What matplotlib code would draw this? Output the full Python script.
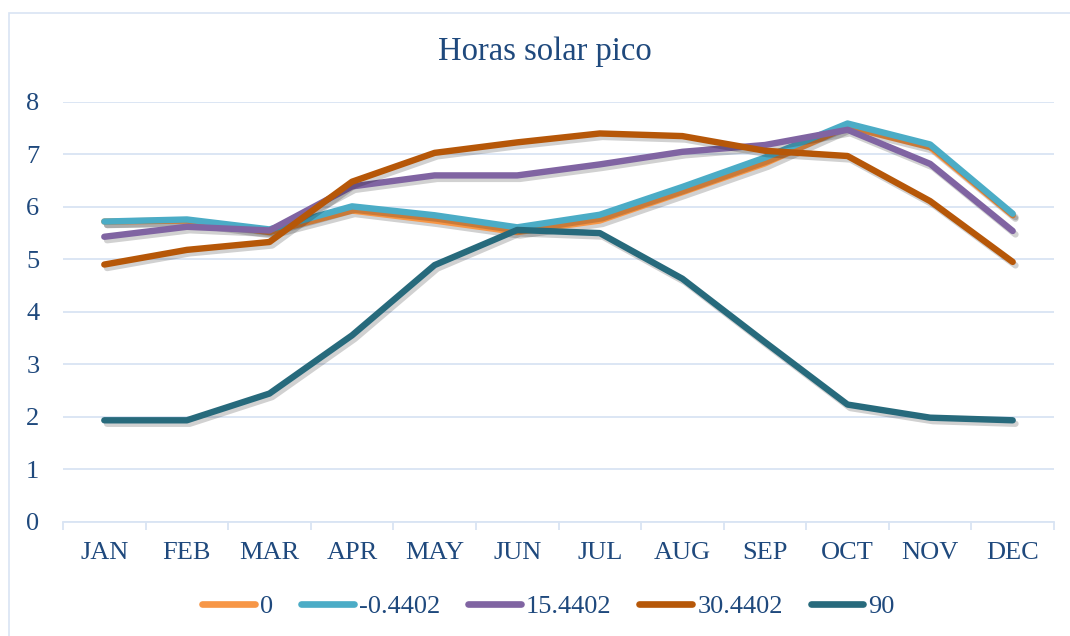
import matplotlib
matplotlib.use("Agg")
import matplotlib.pyplot as plt
import matplotlib.patheffects as pe
from matplotlib.patches import Rectangle

months = ["JAN", "FEB", "MAR", "APR", "MAY", "JUN", "JUL", "AUG", "SEP", "OCT", "NOV", "DEC"]
series_names = ["0", "-0.4402", "15.4402", "30.4402", "90"]
s_0 = [5.72, 5.74, 5.52, 5.93, 5.74, 5.52, 5.74, 6.28, 6.83, 7.53, 7.14, 5.84]
s_m04402 = [5.72, 5.76, 5.57, 6.01, 5.84, 5.61, 5.85, 6.38, 6.94, 7.59, 7.19, 5.87]
s_154402 = [5.43, 5.62, 5.55, 6.39, 6.60, 6.60, 6.81, 7.05, 7.18, 7.47, 6.82, 5.54]
s_304402 = [4.90, 5.18, 5.33, 6.48, 7.03, 7.23, 7.40, 7.35, 7.07, 6.97, 6.11, 4.95]
s_90 = [1.93, 1.93, 2.44, 3.55, 4.89, 5.56, 5.50, 4.63, 3.42, 2.23, 1.98, 1.93]
values = [s_0, s_m04402, s_154402, s_304402, s_90]
colors = ["#F79646", "#4BACC6", "#8064A2", "#B65708", "#276A7C"]

text_color = "#1F497D"
grid_color = "#D9E4F3"
plt.rcParams["font.family"] = ["Liberation Serif", "DejaVu Serif"]

fig = plt.figure(figsize=(10.70, 6.36), dpi=100)
fig.patches.append(Rectangle((9 / 1070, -0.05), 1.1, 1 - 13 / 636 + 0.05,
                             transform=fig.transFigure, fill=False,
                             edgecolor=grid_color, linewidth=1.2, zorder=0))
ax = fig.add_axes([63 / 1070, 1 - 521.5 / 636, (1054 - 63) / 1070, (521.5 - 102) / 636])

x = list(range(len(months)))
shadow = [pe.SimpleLineShadow(offset=(2.0, -2.5), shadow_color="black", alpha=0.18),
          pe.Normal()]
for name, vals, c in zip(series_names, values, colors):
    ax.plot(x, vals, color=c, linewidth=4.6, label=name, solid_capstyle="round",
            solid_joinstyle="round", path_effects=shadow, zorder=3)

ax.set_xlim(-0.5, 11.5)
ax.set_ylim(0, 8)
ax.set_yticks(range(0, 9))
ax.yaxis.grid(True, color=grid_color, linewidth=1.3)
ax.set_axisbelow(True)
for s in ["top", "right", "left"]:
    ax.spines[s].set_visible(False)
ax.spines["bottom"].set_color(grid_color)
ax.spines["bottom"].set_linewidth(1.3)
ax.set_xticks(x)
ax.set_xticklabels(months)
ax.set_xticks([i - 0.5 for i in range(13)], minor=True)
ax.tick_params(axis="x", which="major", length=0, pad=15, labelsize=19, labelcolor=text_color)
ax.tick_params(axis="x", which="minor", length=6, width=1.3, color=grid_color)
ax.tick_params(axis="y", length=0, pad=17, labelsize=19, labelcolor=text_color)

fig.text(545 / 1070, 1 - 52 / 636, "Horas solar pico", ha="center", va="center",
         fontsize=23.5, color=text_color)

leg = fig.legend(loc="center", bbox_to_anchor=(548.5 / 1070, 1 - 606 / 636), ncol=5,
                 frameon=False, fontsize=19, handlelength=2.0, handletextpad=0.2,
                 columnspacing=1.05, labelcolor=text_color)
for line in leg.get_lines():
    line.set_linewidth(4.8)
    line.set_solid_capstyle("round")
    line.set_path_effects([])

fig.savefig("out.png", dpi=100)
